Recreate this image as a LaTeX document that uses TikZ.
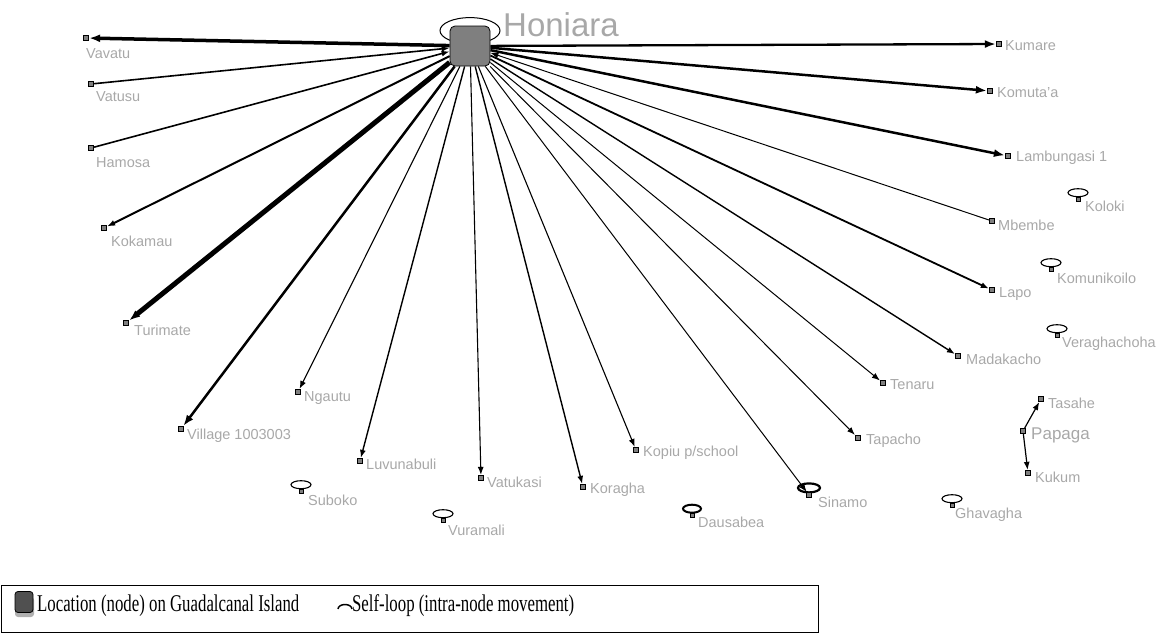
\documentclass[tikz,border=0pt]{standalone}
\usepackage{fontspec}
\setmainfont{Liberation Serif}
\setsansfont{Liberation Sans}
\usetikzlibrary{arrows.meta,backgrounds}
\definecolor{labelgray}{HTML}{A8A8A8}
\definecolor{nodegray}{HTML}{7F7F7F}
\definecolor{keygray}{HTML}{505050}
\definecolor{shadegray}{HTML}{B0B0B0}
\begin{document}
\begin{tikzpicture}[x=1pt,y=-1pt,
  place/.style={draw=black, fill=nodegray, line width=0.7pt, minimum size=5.5pt, inner sep=0pt},
  stub/.style={draw=black, fill=nodegray, line width=0.6pt, minimum size=4pt, inner sep=0pt},
  hub/.style={draw=black, fill=nodegray, line width=0.8pt, minimum size=40pt, inner sep=0pt, rounded corners=5pt},
  lbl/.style={font=\sffamily\fontsize{14.5}{16}\selectfont, text=labelgray, anchor=west, inner sep=0pt},
  flow/.style={-{Latex[length=8pt,width=6pt]}},
  bigflow/.style={-{Latex[length=11pt,width=8pt]}},
  ring/.style={line width=1.1pt},
  keytext/.style={font=\fontsize{24}{26}\selectfont, anchor=west, inner sep=0pt, xscale=0.7},
]
\useasboundingbox (0,0) rectangle (1165,637);

% ---- hub ----
\node[hub] (H) at (470,46) {};
\node[font=\sffamily\fontsize{33}{36}\selectfont, text=labelgray, anchor=base west, inner sep=0pt] (Hl) at (503,36) {Honiara};

% ---- places linked to the hub ----
\node[place] (vav) at (86,38) {};   \node[lbl] at (86,54) {Vavatu};
\node[place] (vts) at (91,84) {};   \node[lbl] at (96,97) {Vatusu};
\node[place] (ham) at (91,148) {};  \node[lbl] at (96,163) {Hamosa};
\node[place] (kok) at (104,228) {}; \node[lbl] at (111,241) {Kokamau};
\node[place] (tur) at (126,323) {}; \node[lbl] at (134,330) {Turimate};
\node[place] (vil) at (181,429) {}; \node[lbl] at (187,436) {Village 1003003};
\node[place] (nga) at (298,392) {}; \node[lbl] at (304,398) {Ngautu};
\node[place] (luv) at (360,461) {}; \node[lbl] at (366,464) {Luvunabuli};
\node[place] (vtk) at (481,478) {}; \node[lbl] at (487,482) {Vatukasi};
\node[place] (kor) at (583,487) {}; \node[lbl] at (590,490) {Koragha};
\node[place] (kop) at (636,450) {}; \node[lbl] at (643,453) {Kopiu p/school};
\node[place] (tap) at (858,438) {}; \node[lbl] at (866,441) {Tapacho};
\node[place] (ten) at (883,383) {}; \node[lbl] at (890,385) {Tenaru};
\node[place] (mad) at (958,356) {}; \node[lbl] at (966,359) {Madakacho};
\node[place] (lap) at (992,290) {}; \node[lbl] at (999,294) {Lapo};
\node[place] (mbe) at (992,221) {}; \node[lbl] at (998,225) {Mbembe};
\node[place] (lam) at (1008,156) {};\node[lbl] at (1016,158) {Lambungasi 1};
\node[place] (kmt) at (990,91) {};  \node[lbl] at (997,93) {Komuta'a};
\node[place] (kum) at (999,44) {};  \node[lbl] at (1005,46) {Kumare};

% ---- Papaga group ----
\node[place] (pap) at (1023,431) {};\node[lbl, font=\sffamily\fontsize{17}{19}\selectfont] at (1031,435) {Papaga};
\node[place] (tas) at (1041,399) {};\node[lbl] at (1048,403) {Tasahe};
\node[place] (kuk) at (1028,473) {};\node[lbl] at (1035,477) {Kukum};

% ---- places with only intra-node movement ----
\node[place] (sin) at (809,495) {}; \node[lbl] at (818,502) {Sinamo};
\node[stub] (sub) at (301,491) {};  \node[lbl] at (308,500) {Suboko};
\node[stub] (vur) at (443,520) {};  \node[lbl] at (448,530) {Vuramali};
\node[stub] (dau) at (692,515) {};  \node[lbl] at (698,522) {Dausabea};
\node[stub] (gha) at (952,505) {};  \node[lbl] at (955,515) {Ghavagha};
\node[stub] (kol) at (1078,199) {}; \node[lbl] at (1085,206) {Koloki};
\node[stub] (kmn) at (1051,269) {}; \node[lbl] at (1057,278) {Komunikoilo};
\node[stub] (ver) at (1057,335) {}; \node[lbl] at (1062,344) {Veraghachoha};

% self-loops drawn as small rings resting on their node
\begin{scope}[on background layer]
\draw[ring] ([yshift=4pt]sub.north) ellipse [x radius=10, y radius=4];
\draw[ring] ([yshift=4pt]vur.north) ellipse [x radius=10, y radius=4];
\draw[ring] ([yshift=4pt]gha.north) ellipse [x radius=10, y radius=4];
\draw[ring] ([yshift=4pt]kol.north) ellipse [x radius=10, y radius=4];
\draw[ring] ([yshift=4pt]kmn.north) ellipse [x radius=10, y radius=4];
\draw[ring] ([yshift=4pt]ver.north) ellipse [x radius=10, y radius=4];
\draw[line width=2pt] ([yshift=4pt]dau.north) ellipse [x radius=9, y radius=4];
\draw[line width=2.2pt] ([yshift=4pt]sin.north) ellipse [x radius=11, y radius=4.5];
\end{scope}

% ---- connectors ----
\begin{scope}[on background layer]
  \draw[line width=1pt] ([yshift=-5pt]H.north) ellipse [x radius=30, y radius=13];
  \draw[bigflow, line width=3.5pt] (H) -- (vav);
  \draw[flow, line width=1.6pt] (vts) -- (H);
  \draw[flow, line width=1.6pt] (ham) -- (H);
  \draw[flow, line width=2pt] (H) -- (kok);
  \draw[bigflow, line width=5pt] (H) -- (tur);
  \draw[bigflow, line width=2.5pt] (H) -- (vil);
  \draw[flow, line width=1.1pt] (H) -- (nga);
  \draw[flow, line width=1.4pt] (H) -- (luv);
  \draw[flow, line width=1.1pt] (H) -- (vtk);
  \draw[flow, line width=1.4pt] (H) -- (kor);
  \draw[flow, line width=1.1pt] (H) -- (kop);
  \draw[flow, line width=1pt] (H) -- (sin);
  \draw[flow, line width=1pt] (H) -- (tap);
  \draw[flow, line width=1pt] (H) -- (ten);
  \draw[flow, line width=1.4pt] (H) -- (mad);
  \draw[flow, line width=1.8pt] (H) -- (lap);
  \draw[flow, line width=1pt] (mbe) -- (H);
  \draw[bigflow, line width=2.5pt] (H) -- (lam);
  \draw[bigflow, line width=2.5pt] (H) -- (kmt);
  \draw[bigflow, line width=2.3pt] (H) -- (kum);
  \draw[flow, line width=1.2pt] (pap) -- (tas);
  \draw[flow, line width=1.2pt] (pap) -- (kuk);
\end{scope}

% ---- key ----
\draw[line width=1pt] (1,585) rectangle (818,632);
\fill[shadegray, rounded corners=3pt] (15,597) rectangle (34,617);
\node[draw=black, fill=keygray, line width=0.8pt, rounded corners=3pt, minimum width=18pt, minimum height=21pt, inner sep=0pt] (keybox) at (24,602) {};
\node[keytext] (keyplace) at (37,606) {Location (node) on Guadalcanal Island};
\draw[line width=1.5pt] (338,609) arc [start angle=180, end angle=360, x radius=7, y radius=4.5];
\node[keytext] (keyloop) at (352,606) {Self-loop (intra-node movement)};
\end{tikzpicture}
\end{document}
